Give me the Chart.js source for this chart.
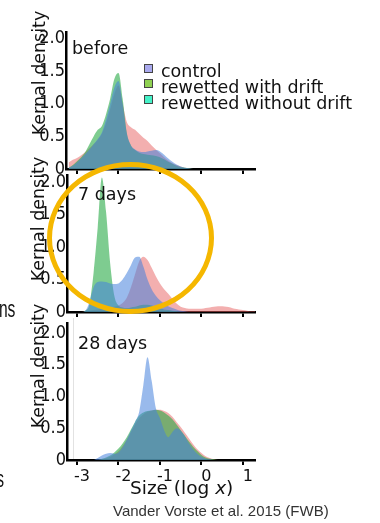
<!DOCTYPE html>
<html><head><meta charset="utf-8">
<script src="https://cdn.jsdelivr.net/npm/chart.js@4"></script>
<style>
html,body{margin:0;padding:0;background:#fff;width:380px;height:523px;overflow:hidden;position:relative;font-family:"DejaVu Sans",sans-serif;color:#111}
canvas{position:absolute;left:0}
.t{position:absolute;white-space:nowrap;line-height:1}
.yt{position:absolute;width:150px;height:20px;line-height:20px;font-size:17.5px;text-align:center;transform:rotate(-90deg);white-space:nowrap}
.sq{position:absolute;width:9px;height:9px;box-sizing:border-box;border:1px solid #444}
.sq2{transform-origin:right top;transform:scaleX(0.65)}
</style></head><body>
<canvas id="c1" width="270" height="182" style="top:0"></canvas>
<canvas id="c2" width="270" height="165" style="top:160px"></canvas>
<canvas id="c3" width="270" height="213" style="top:310px"></canvas>
<div style="position:absolute;left:73px;top:318px;width:1px;height:141px;background:#e2e2e2"></div>

<div class="yt" style="left:-36px;top:63px">Kernal density</div>
<div class="yt" style="left:-37px;top:209px">Kernal density</div>
<div class="yt" style="left:-37px;top:356px">Kernal density</div>

<div class="t" style="left:72px;top:40px;font-size:17.5px">before</div>
<div class="t" style="left:78px;top:186px;font-size:17.5px">7 days</div>
<div class="t" style="left:78px;top:335px;font-size:17.5px">28 days</div>

<div id="legend"></div>

<div class="t" style="left:130px;top:479px;font-size:18.5px">Size (log <i>x</i>)</div>
<div class="t" style="left:113px;top:503px;font-size:15px;font-family:'Liberation Sans',Arial,sans-serif;color:#333">Vander Vorste et al. 2015 (FWB)</div>
<div class="t sq2" style="right:365px;top:297px;font-size:24px;font-family:'Liberation Sans',Arial,sans-serif">ns</div>
<div class="t sq2" style="right:376px;top:467px;font-size:24px;font-family:'Liberation Sans',Arial,sans-serif">s</div>

<div style="position:absolute;left:47px;top:162px;width:167px;height:152px;box-sizing:border-box;border:5px solid #F5B700;border-radius:50%"></div>

<script>
// ---- data ----
const sizeLogX = [-3.2,-3.1,-3.0,-2.9,-2.8,-2.7,-2.6,-2.5,-2.4,-2.3,-2.2,-2.1,-2.0,-1.9,-1.8,-1.7,-1.6,-1.5,-1.4,-1.3,-1.2,-1.1,-1.0,-0.9,-0.8,-0.7,-0.6,-0.5,-0.4,-0.3,-0.2,-0.1,0.0,0.1,0.2,0.3,0.4,0.5,0.6,0.7,0.8,0.9,1.0,1.1,1.2,1.3];
const seriesNames = ["control","rewetted with drift","rewetted without drift"];
const panelLabels = ["before","7 days","28 days"];
const xTicks = [-3,-2,-1,0,1];
const yTicks = [0,0.5,1,1.5,2];
const yTickLabels = ["0","0.5","1.0","1.5","2.0"];

const beforeControl = [0.02,0.05,0.10,0.16,0.23,0.30,0.38,0.46,0.56,0.76,1.00,1.25,1.35,1.00,0.55,0.36,0.30,0.27,0.26,0.27,0.28,0.29,0.27,0.22,0.16,0.11,0.07,0.04,0.02,0.01,0,0,0,0,0,0,0,0,0,0,0,0,0,0,0,0];
const beforeWithDrift = [0.02,0.06,0.12,0.18,0.26,0.38,0.50,0.60,0.66,0.84,1.08,1.38,1.47,1.08,0.55,0.36,0.29,0.25,0.23,0.22,0.21,0.20,0.18,0.15,0.11,0.08,0.05,0.03,0.02,0.01,0,0,0,0,0,0,0,0,0,0,0,0,0,0,0,0];
const beforeWithoutDrift = [0.10,0.14,0.17,0.21,0.26,0.32,0.38,0.45,0.54,0.70,0.92,1.15,1.28,1.00,0.72,0.64,0.60,0.54,0.48,0.43,0.36,0.30,0.24,0.18,0.13,0.09,0.06,0.04,0.02,0.01,0,0,0,0,0,0,0,0,0,0,0,0,0,0,0,0];

const day7Control = [0,0,0,0,0.02,0.15,0.38,0.46,0.47,0.46,0.44,0.43,0.44,0.50,0.60,0.72,0.84,0.85,0.70,0.50,0.35,0.25,0.18,0.13,0.09,0.06,0.04,0.02,0.01,0,0,0,0,0,0,0,0,0,0,0,0,0,0,0,0,0];
const day7WithDrift = [0,0,0,0,0.02,0.12,0.60,1.30,2.07,1.55,0.75,0.25,0.10,0.07,0.06,0.07,0.08,0.10,0.11,0.11,0.10,0.08,0.06,0.04,0.03,0.02,0.01,0,0,0,0,0,0,0,0,0,0,0,0,0,0,0,0,0,0,0];
const day7WithoutDrift = [0,0,0,0,0.01,0.02,0.03,0.04,0.05,0.06,0.07,0.08,0.10,0.14,0.22,0.38,0.58,0.78,0.85,0.80,0.68,0.55,0.44,0.35,0.28,0.20,0.13,0.08,0.06,0.05,0.05,0.05,0.05,0.06,0.07,0.08,0.09,0.09,0.08,0.07,0.05,0.04,0.03,0.02,0.01,0.01];

const day28Control = [0,0,0,0,0,0,0,0.03,0.07,0.10,0.11,0.10,0.12,0.20,0.32,0.46,0.60,0.76,1.18,1.62,1.25,0.82,0.66,0.47,0.36,0.44,0.50,0.46,0.37,0.26,0.17,0.10,0.05,0.02,0.01,0,0,0,0,0,0,0,0,0,0,0];
const day28WithDrift = [0,0,0,0,0,0,0,0,0.02,0.04,0.07,0.12,0.18,0.26,0.36,0.48,0.60,0.70,0.75,0.77,0.78,0.79,0.78,0.75,0.70,0.64,0.56,0.47,0.38,0.29,0.21,0.14,0.08,0.04,0.02,0.01,0,0,0,0,0,0,0,0,0,0];
const day28WithoutDrift = [0,0,0,0,0,0,0,0,0.01,0.03,0.05,0.09,0.14,0.22,0.32,0.44,0.56,0.66,0.72,0.76,0.78,0.79,0.79,0.77,0.74,0.68,0.60,0.52,0.43,0.34,0.25,0.17,0.11,0.06,0.03,0.01,0,0,0,0,0,0,0,0,0,0];

// ---- styles ----
const fillColors = ["rgba(70,130,220,0.55)","rgba(40,170,70,0.6)","rgba(232,95,95,0.5)"];
const legendSwatch = ["#a9a9ee","#8fd152","#45f2c8"];

// legend
const lg = document.getElementById('legend');
seriesNames.forEach((n,i)=>{
  const s = document.createElement('div'); s.className='sq';
  s.style.left='144px'; s.style.top=(63.5+15.6*i)+'px'; s.style.background=legendSwatch[i];
  lg.appendChild(s);
  const t = document.createElement('div'); t.className='t';
  t.style.left='161px'; t.style.top=(63.2+16*i)+'px'; t.style.fontSize='17.5px';
  t.textContent=n; lg.appendChild(t);
});

function panel(id, series, cfg){
  const ds = series.map((vals,i)=>({
    label: seriesNames[i],
    data: sizeLogX.map((x,j)=>({x:x,y:vals[j]})),
    fill:'origin', backgroundColor: fillColors[i], borderColor:'transparent', borderWidth:0,
    pointRadius:0, cubicInterpolationMode:'monotone', order: i+1
  }));
  return new Chart(document.getElementById(id), {
    type:'line',
    data:{datasets:ds},
    options:{
      responsive:false, animation:false, maintainAspectRatio:false,
      layout:{padding:{top:cfg.padTop,right:cfg.padRight,bottom:0,left:0}},
      plugins:{legend:{display:false},tooltip:{enabled:false}},
      scales:{
        x:{type:'linear', min:cfg.xMin, max:cfg.xMax,
          afterBuildTicks:s=>{s.ticks = xTicks.map(v=>({value:v}));},
          afterFit:s=>{s.height = cfg.xH;},
          grid:{display:true, drawOnChartArea:false, drawTicks:true, tickLength:5, color:'#000', lineWidth:2},
          border:{display:true, color:'#000', width:2.5},
          ticks:{display:cfg.showX, autoSkip:false, maxRotation:0, padding:2, labelOffset:5, color:'#111',
            font:{family:'"DejaVu Sans", sans-serif', size:16}}
        },
        y:{min:0, max:cfg.yMax,
          afterBuildTicks:s=>{s.ticks = yTicks.map(v=>({value:v}));},
          afterFit:s=>{s.width = cfg.yW;},
          grid:{display:false, drawTicks:false},
          border:{display:true, color:'#000', width:2.5},
          ticks:{padding:1, color:'#111', autoSkip:false,
            callback:(v)=>{const k=yTicks.indexOf(v); return k>=0?yTickLabels[k]:'';},
            font:{family:'"Liberation Sans Narrow", "DejaVu Sans Condensed", sans-serif', size:18}}
        }
      }
    }
  });
}

panel('c1',[beforeControl,beforeWithDrift,beforeWithoutDrift],{padTop:32,padRight:15,xMin:-3.265,xMax:1.29,xH:13,yW:66,yMax:2.1,showX:false});
panel('c2',[day7Control,day7WithDrift,day7WithoutDrift],{padTop:15.5,padRight:15,xMin:-3.24,xMax:1.29,xH:13,yW:67,yMax:2.1,showX:false});
panel('c3',[day28Control,day28WithDrift,day28WithoutDrift],{padTop:13.5,padRight:15,xMin:-3.24,xMax:1.29,xH:63,yW:67,yMax:2.15,showX:true});
</script>
</body></html>
